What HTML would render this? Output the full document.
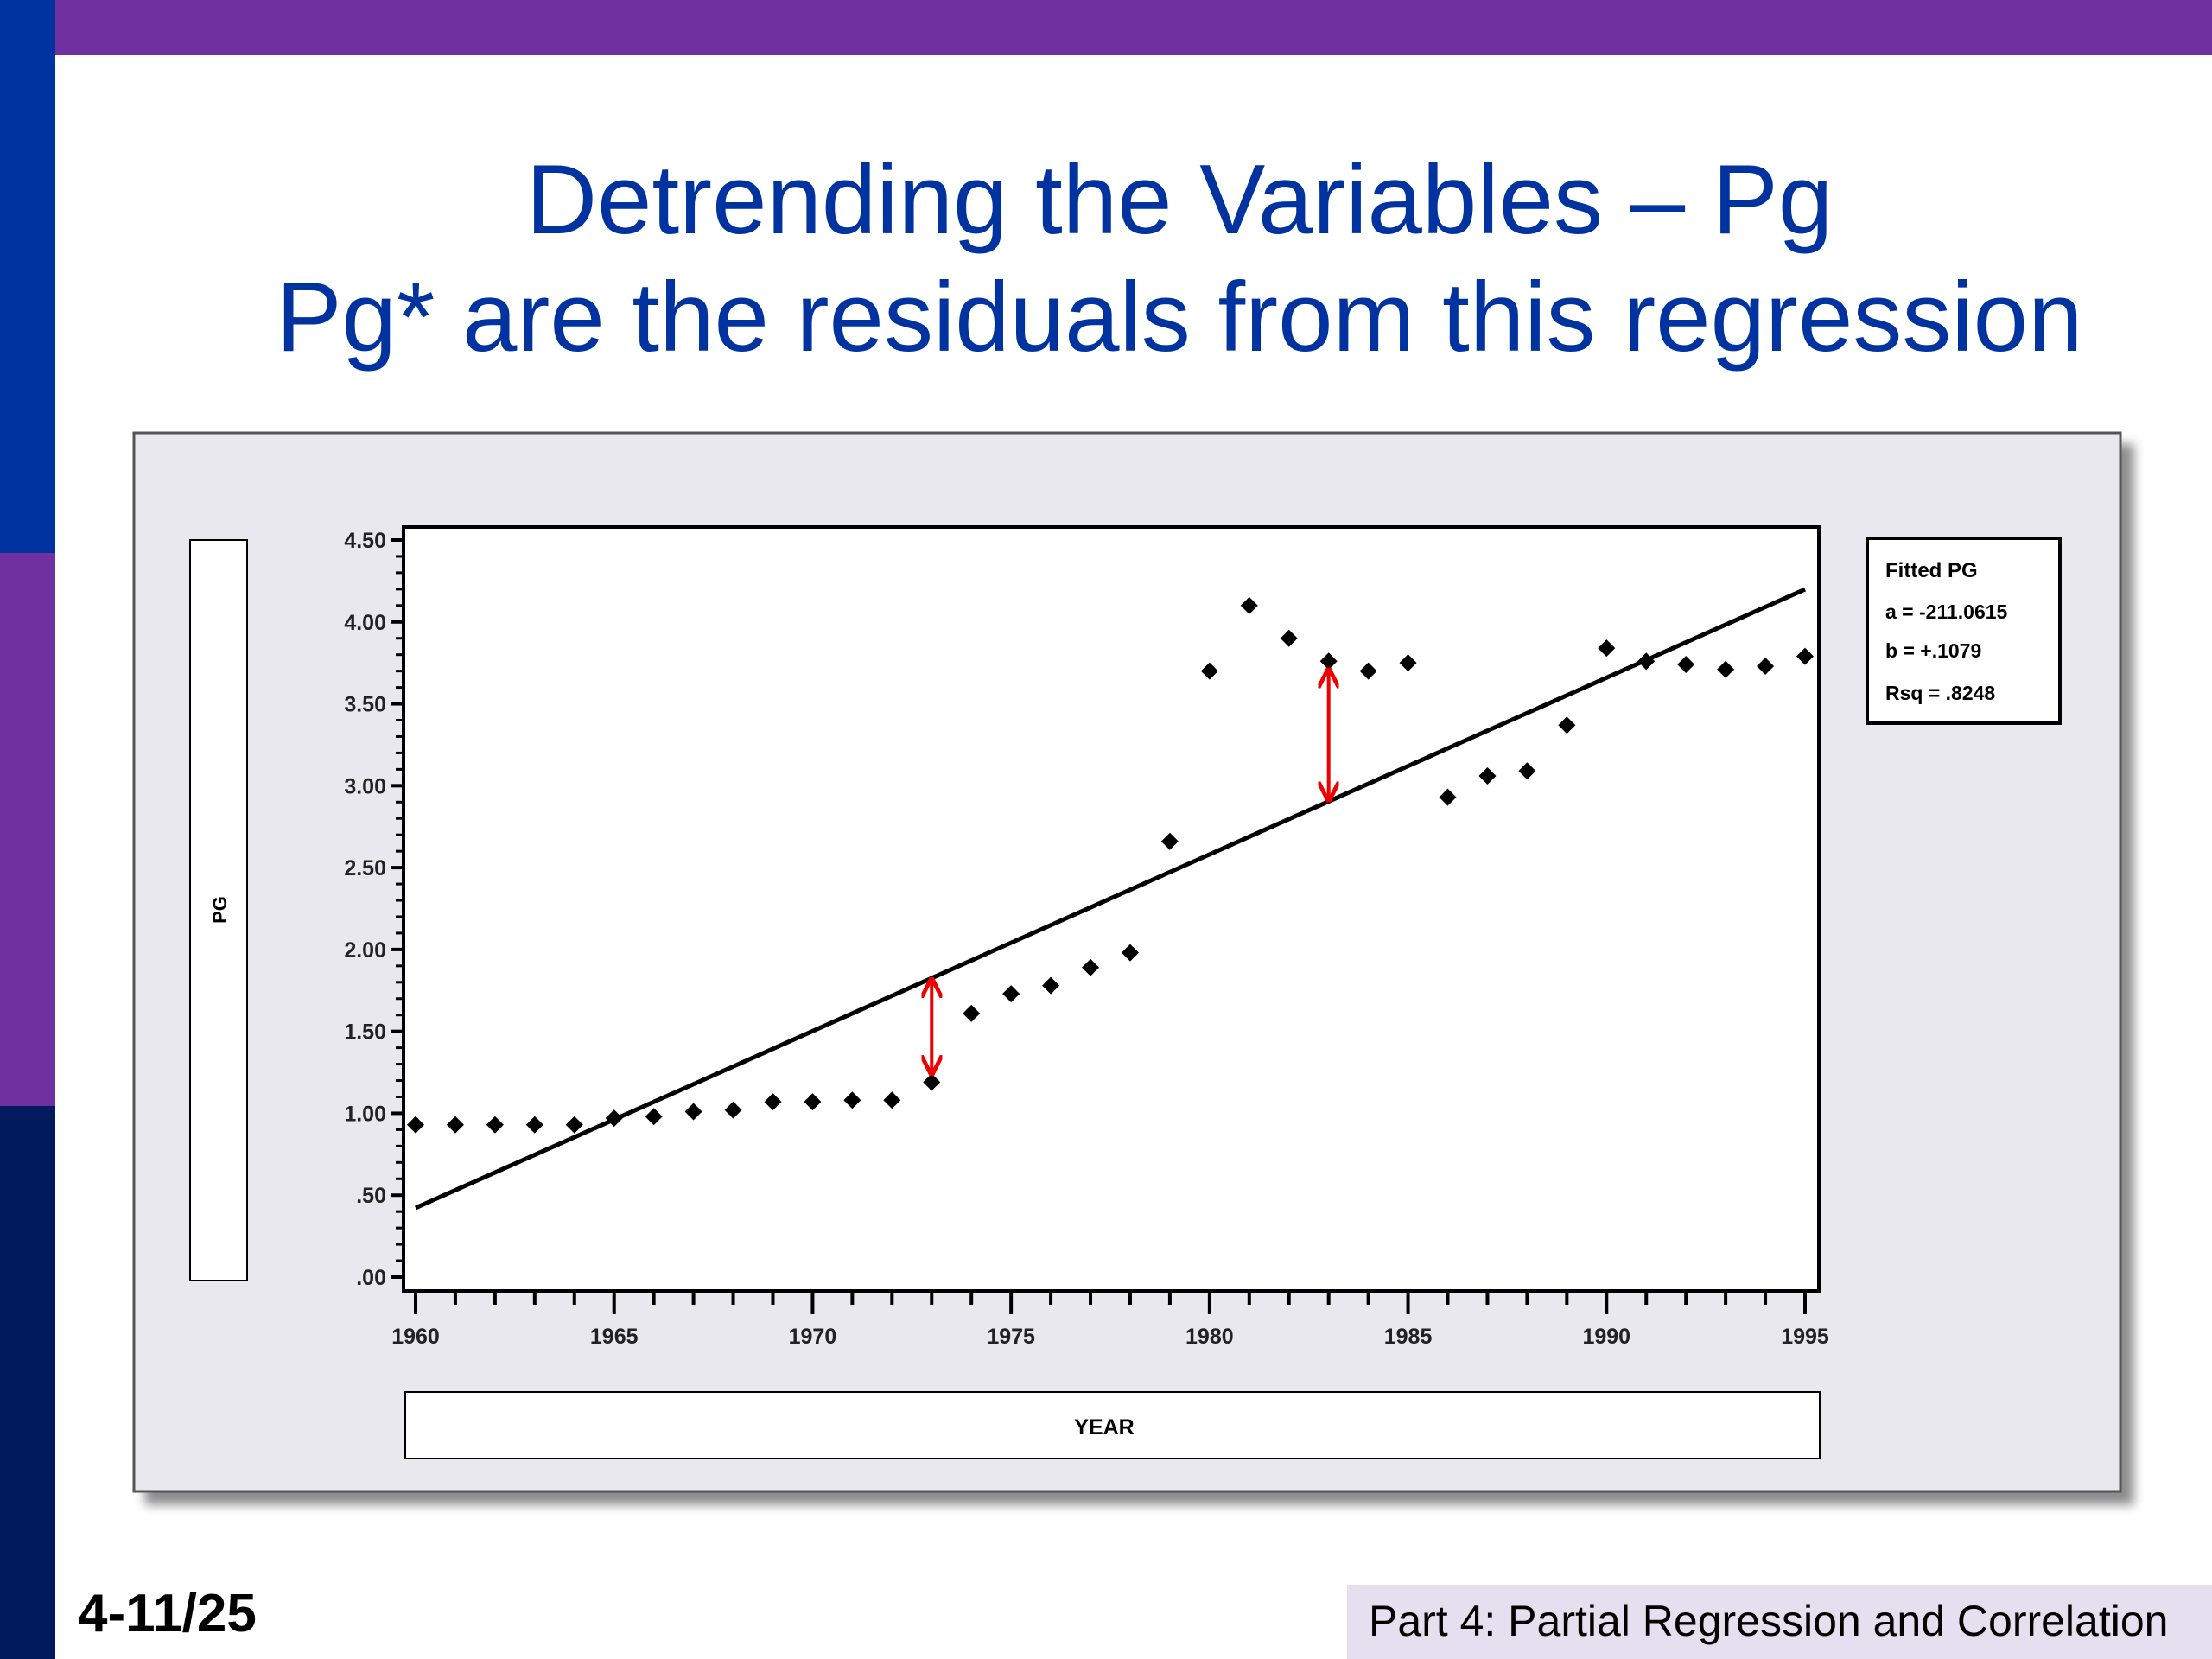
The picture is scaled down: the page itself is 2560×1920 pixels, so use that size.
<!DOCTYPE html>
<html><head><meta charset="utf-8"><style>
html,body{margin:0;padding:0;width:2560px;height:1920px;overflow:hidden;background:#fff;}
svg text{font-family:"Liberation Sans",sans-serif;}
</style></head><body>
<svg width="2560" height="1920" viewBox="0 0 2560 1920" xmlns="http://www.w3.org/2000/svg">
<defs>
<filter id="sh" x="-5%" y="-5%" width="115%" height="115%"><feDropShadow dx="14" dy="14" stdDeviation="6" flood-color="#000" flood-opacity="0.45"/></filter>
<marker id="ah" viewBox="0 0 10 10" refX="8" refY="5" markerWidth="6" markerHeight="6" orient="auto-start-reverse"><path d="M0,0 L10,5 L0,10" fill="none" stroke="#e00" stroke-width="2"/></marker>
</defs>
<rect x="0" y="0" width="64" height="640" fill="#0033a0"/>
<rect x="0" y="640" width="64" height="640" fill="#7030a0"/>
<rect x="0" y="1280" width="64" height="640" fill="#001a5c"/>
<rect x="64" y="0" width="2496" height="64" fill="#7030a0"/>
<text x="1365" y="270" font-size="114" fill="#0033a0" text-anchor="middle">Detrending the Variables – Pg</text>
<text x="1365" y="406" font-size="114" fill="#0033a0" text-anchor="middle">Pg* are the residuals from this regression</text>
<rect x="155" y="501" width="2299" height="1225" fill="#e8e8ee" stroke="#555" stroke-width="3" filter="url(#sh)"/>
<rect x="220" y="625" width="66" height="857" fill="#fff" stroke="#000" stroke-width="2"/>
<text transform="translate(262,1053) rotate(-90)" font-size="22" font-weight="bold" text-anchor="middle">PG</text>
<rect x="469" y="1611" width="1637" height="77" fill="#fff" stroke="#000" stroke-width="2"/>
<text x="1278" y="1660" font-size="25" font-weight="bold" text-anchor="middle">YEAR</text>
<rect x="467" y="610" width="1638" height="884" fill="#fff" stroke="#000" stroke-width="4"/>
<g id="axes"></g>
<g id="marks"></g>
<g>
<rect x="2161" y="623" width="223" height="214" fill="#fff" stroke="#000" stroke-width="4"/>
<text x="2182" y="668" font-size="24" font-weight="bold">Fitted PG</text>
<text x="2182" y="716" font-size="23" font-weight="bold">a = -211.0615</text>
<text x="2182" y="761" font-size="23" font-weight="bold">b = +.1079</text>
<text x="2182" y="810" font-size="23" font-weight="bold">Rsq = .8248</text>
</g>
<text x="90" y="1888" font-size="62" font-weight="bold">4-11/25</text>
<rect x="1559" y="1834" width="1001" height="86" fill="#e6dff0"/>
<text x="1584" y="1893" font-size="50">Part 4: Partial Regression and Correlation</text>
</svg>
<script>
const years=[1960,1961,1962,1963,1964,1965,1966,1967,1968,1969,1970,1971,1972,1973,1974,1975,1976,1977,1978,1979,1980,1981,1982,1983,1984,1985,1986,1987,1988,1989,1990,1991,1992,1993,1994,1995];
const pg=[0.93,0.93,0.93,0.93,0.93,0.97,0.98,1.01,1.02,1.07,1.07,1.08,1.08,1.19,1.61,1.73,1.78,1.89,1.98,2.66,3.70,4.10,3.90,3.76,3.70,3.75,2.93,3.06,3.09,3.37,3.84,3.76,3.74,3.71,3.73,3.79];
const fitA=-211.0615, fitB=0.1079;
const arrowYears=[1973,1983];
const yTickLabels=[".00",".50","1.00","1.50","2.00","2.50","3.00","3.50","4.00","4.50"];
const xTickLabels=["1960","1965","1970","1975","1980","1985","1990","1995"];
const NS="http://www.w3.org/2000/svg";
const xS=y=>481+(y-1960)*(2089-481)/35;
const yS=v=>1478-v*(1478-625)/4.5;
function mk(t,a,p){const e=document.createElementNS(NS,t);for(const k in a)e.setAttribute(k,a[k]);p.appendChild(e);return e;}
const ax=document.getElementById('axes'), mg=document.getElementById('marks');
for(let i=0;i<=45;i++){const v=i/10,y=yS(v),maj=i%5===0;
 const l=mk('line',{x1:maj?452:458,x2:467,y1:y,y2:y,stroke:'#000','stroke-width':maj?4:3},ax);
 
 }
yTickLabels.forEach((s,i)=>{const t=mk('text',{x:447,y:yS(i*0.5)+9,'font-size':25,'font-weight':'bold','text-anchor':'end',fill:'#222'},ax);t.textContent=s;
 
 });
years.forEach(yr=>{const x=xS(yr),maj=(yr%5===0);
 const l=mk('line',{x1:x,x2:x,y1:1494,y2:maj?1521:1510,stroke:'#000','stroke-width':4},ax);
 
 });
xTickLabels.forEach(s=>{const t=mk('text',{x:xS(+s),y:1555,'font-size':25,'font-weight':'bold','text-anchor':'middle',fill:'#222'},ax);t.textContent=s;
 
 });
const f=yr=>fitA+fitB*yr;
const fl=mk('line',{x1:xS(1960),y1:yS(f(1960)),x2:xS(1995),y2:yS(f(1995)),stroke:'#000','stroke-width':5},mg);


years.forEach((yr,i)=>{const x=xS(yr),y=yS(pg[i]),r=10;
 const p=mk('polygon',{points:`${x},${y-r} ${x+r},${y} ${x},${y+r} ${x-r},${y}`,fill:'#000'},mg);
 
 });
arrowYears.forEach(yr=>{const i=years.indexOf(yr),x=xS(yr),a=yS(pg[i]),b=yS(f(yr));
 const s=a>b?1:-1;
 const l=mk('line',{x1:x,x2:x,y1:a-s*12,y2:b+s*4,stroke:'#e00','stroke-width':4,'marker-start':'url(#ah)','marker-end':'url(#ah)'},mg);
 
 });
</script>
</body></html>
